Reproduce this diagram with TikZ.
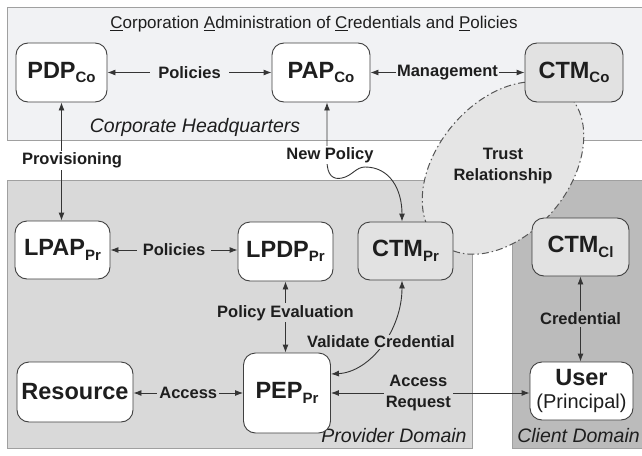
\documentclass[tikz,border=0pt]{standalone}
\usepackage{fontspec}
\setmainfont{Liberation Sans}
\usetikzlibrary{arrows.meta,calc}

\definecolor{hqfill}{HTML}{F1F2F4}
\definecolor{provfill}{HTML}{D9D9D9}
\definecolor{clientfill}{HTML}{BBBBBB}
\definecolor{bandline}{HTML}{A0A0A0}
\definecolor{ink}{HTML}{1E1E1E}
\definecolor{ctmfill}{HTML}{E2E2E2}
\definecolor{trustfill}{HTML}{E5E5E5}

\newcommand\boxfont{\fontsize{23.5}{26}\selectfont\bfseries}
\newcommand\lowsub[1]{\raisebox{-4.5pt}{\fontsize{15}{15}\selectfont\bfseries #1}}
\newcommand\labfont{\fontsize{16.5}{21}\selectfont\bfseries}
\newcommand\domfont{\fontsize{19.5}{22}\selectfont\itshape}

\begin{document}
\begin{tikzpicture}[x=1pt,y=-1pt,
  >={Latex[length=8pt,width=6pt]},
  every node/.style={text=ink},
  entity/.style={draw=ink!85, line width=0.9pt, rounded corners=12pt, fill=white,
    font=\boxfont, minimum height=58pt, inner sep=0pt, align=center},
  ctm/.style={entity, fill=ctmfill},
  link/.style={<->, draw=ink!90, line width=0.9pt},
  lab/.style={font=\labfont, inner sep=2pt, align=center},
  domcaption/.style={font=\domfont, inner sep=0pt},
  band/.style={draw=bandline, line width=0.8pt},
  trust/.style={draw=ink!75, fill=trustfill, line width=1pt,
    dash pattern=on 7pt off 3pt on 1.5pt off 3pt},
]
\clip (0,0) rectangle (642,455);
\fill[white] (0,0) rectangle (642,455);

% administrative domains
\draw[band, fill=hqfill] (7,7) rectangle (660,140);
\draw[band, fill=provfill] (7,180) rectangle (472,448);
\draw[band, fill=clientfill] (512,180) rectangle (660,448);

% trust relationship region
\draw[trust, rotate around={50:(503,168)}] (503,168) ellipse [x radius=98pt, y radius=66pt];
\node[lab] (trusttxt) at (503,166) {Trust\\Relationship};

% domain captions
\node[font=\fontsize{17}{20}\selectfont, inner sep=0pt] (title) at (314,24)
  {\underline{C}orporation \underline{A}dministration of \underline{C}redentials and \underline{P}olicies};
\node[domcaption] (hqname) at (195,127) {Corporate Headquarters};
\node[domcaption] (provname) at (394,436) {Provider Domain};
\node[domcaption] (clientname) at (578.5,436) {Client Domain};

% entities
\node[entity, minimum width=91pt, minimum height=59pt] (pdp) at (61.5,72.5) {PDP\lowsub{Co}};
\node[entity, minimum width=98pt, minimum height=59pt] (pap) at (321,72.5) {PAP\lowsub{Co}};
\node[ctm, minimum width=98pt, minimum height=59pt] (ctmco) at (574,72.5) {CTM\lowsub{Co}};

\node[entity, minimum width=95pt] (lpap) at (62.5,250) {LPAP\lowsub{Pr}};
\node[entity, minimum width=95pt, minimum height=59pt] (lpdp) at (285.5,251.5) {LPDP\lowsub{Pr}};
\node[ctm, minimum width=95pt] (ctmpr) at (405.5,251) {CTM\lowsub{Pr}};
\node[ctm, minimum width=97pt] (ctmcl) at (580.5,247) {CTM\lowsub{Cl}};

\node[entity, minimum width=116pt, minimum height=60pt] (resource) at (75,392) {Resource};
\node[entity, minimum width=87pt, minimum height=80pt] (pep) at (287,393) {PEP\lowsub{Pr}};
\node[entity, minimum width=103pt, minimum height=58pt] (user) at (581.5,391)
  {User\\[-3pt]{\fontsize{20}{22}\selectfont\mdseries (Principal)}};

% connectors
\draw[link] (pdp) -- (pap) node[lab, fill=hqfill, inner xsep=8pt, midway] (l1) {Policies};
\draw[link] (pap) -- (ctmco) node[lab, fill=hqfill, inner xsep=1.5pt, midway] (l2) {Management};
\draw[link] (pdp.south) -- (pdp.south |- lpap.north)
  node[lab, fill=white, pos=0.49, xshift=10.5pt] (l3) {Provisioning};
\draw[link] ($(pap.south)+(6,0)$) -- ++(0,58)
  .. controls +(0,15) and (333,180) .. (342,178)
  .. controls (352,176) and (356,167) .. (365,167)
  .. controls (390,167) and ($(ctmpr.north)+(-3.5,-32)$) .. ($(ctmpr.north)+(-3.5,0)$);
\node[lab, fill=white, inner sep=1pt] (l4) at (330,155) {New Policy};
\draw[link] (lpap.east) -- (lpap.east -| lpdp.west)
  node[lab, fill=provfill, inner xsep=6pt, midway] (l5) {Policies};
\draw[link] (lpdp.south) -- (lpdp.south |- pep.north)
  node[lab, fill=provfill, pos=0.44] (l6) {Policy Evaluation};
\draw[link] ($(pep.east)+(0,-19)$) .. controls (370,372) and ($(ctmpr.south)+(-3.5,50)$) .. ($(ctmpr.south)+(-3.5,0)$);
\node[lab, fill=provfill, inner sep=1pt] (l7) at (381,342) {Validate Credential};
\draw[link] (resource.east |- pep.east) -- (pep.east -| pep.west)
  node[lab, fill=provfill, inner xsep=2pt, midway] (l8) {Access};
\draw[link] (pep.east) -- (pep.east -| user.west)
  node[lab, fill=provfill, pos=0.44, inner sep=2pt] (l9) {Access\\Request};
\draw[link] (ctmcl.south) -- (ctmcl.south |- user.north)
  node[lab, fill=clientfill, midway] (l10) {Credential};
\end{tikzpicture}
\end{document}
